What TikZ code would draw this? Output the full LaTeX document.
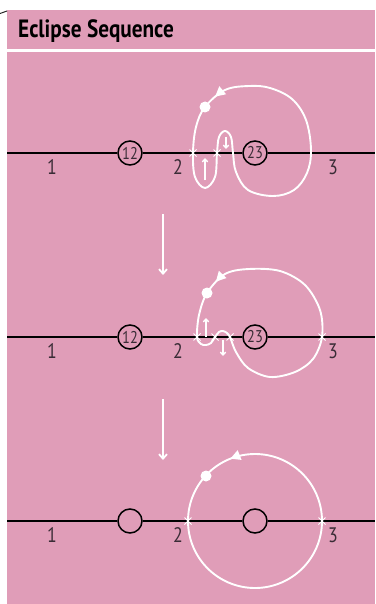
\documentclass[tikz,border=0pt]{standalone}
\usepackage{fontspec}
\setmainfont{PT Sans}[FakeStretch=0.85]
\usetikzlibrary{positioning,arrows.meta,shapes.misc,decorations.markings}
\definecolor{rosebg}{RGB}{224,157,184}
\definecolor{inkgray}{RGB}{58,44,54}

\begin{document}
\begin{tikzpicture}[
    x=1pt, y=-1pt,
    axis/.style={line width=1.8pt,black},
    hole/.style={circle,draw=black,line width=1.5pt,fill=rosebg,minimum size=24pt,inner sep=0pt,text=inkgray,font=\fontsize{17}{17}\selectfont},
    num/.style={text=inkgray,font=\fontsize{21}{21}\selectfont,inner sep=0pt},
    orbit/.style={white,line width=1.9pt},
    spot/.style={circle,fill=white,minimum size=11pt,inner sep=0pt},
    xmark/.style={cross out,draw=white,line width=1pt,minimum size=6pt,inner sep=0pt},
    flow/.style={white,line width=1.8pt,-{Straight Barb[length=4.5pt,width=8pt]}},
    nudge/.style={white,line width=1.3pt,-{Straight Barb[length=3pt,width=5.5pt]}},
    headmark/.style={postaction={decorate},decoration={markings,mark=at position #1 with {\arrow{Triangle[length=10pt,width=10pt]}}}}
]
\useasboundingbox (0,0) rectangle (375,604);

% background
\fill[rosebg] (7,10) rectangle (375,49);
\fill[rosebg] (7,52) rectangle (375,604);
\draw[black!85,line width=1pt] (0,13.5) -- (7,11);
\node[anchor=base west,inner sep=0pt,font=\fontsize{25}{25}\selectfont\bfseries] (title) at (18,38) {Eclipse Sequence};

% panel 1
\coordinate (L1) at (7,153);
\coordinate (R1) at (375,153);
\node[hole] (p12a) at (130,153) {12};
\node[hole] (p23a) at (255,153) {23};
\draw[axis] (L1) -- (p12a) -- (p23a) -- (R1);
\node[num] (n1a) at (52,167) {1};
\node[num] (n2a) at (178,167) {2};
\node[num] (n3a) at (333,167) {3};
\draw[orbit,headmark=12pt] plot[smooth cycle,tension=0.6] coordinates {
    (249,86) (225,90) (205,107) (196,127) (193,153) (195,177) (205,188)
    (215,177) (217,153) (219,137) (225,131) (231,137) (233,153)
    (236,172) (248,190) (273,196) (294,190) (307,173) (311,150)
    (306,120) (292,99) (270,88)};
\node[spot] (d1) at (205,107) {};
\node[xmark] (x1a) at (193,153) {};
\node[xmark] (x1b) at (217,153) {};
\draw[nudge] (205,180) -- (205,158);
\draw[nudge] (226,137) -- (226,149);

% arrow 1
\coordinate (a1s) at (163,214);
\coordinate (a1e) at (163,275);
\draw[flow] (a1s) -- (a1e);

% panel 2
\coordinate (L2) at (7,337);
\coordinate (R2) at (375,337);
\node[hole] (p12b) at (130,337) {12};
\node[hole] (p23b) at (255,337) {23};
\draw[axis] (L2) -- (p12b) -- (p23b) -- (R2);
\node[num] (n1b) at (52,351) {1};
\node[num] (n2b) at (178,351) {2};
\node[num] (n3b) at (333,351) {3};
\draw[orbit,headmark=12pt] plot[smooth cycle,tension=0.55] coordinates {
    (249,269) (225,274) (207,293) (199,315) (197,337) (201,344) (206,345)
    (211,343) (215,337) (219,332) (223,331) (227,333) (230,337)
    (236,352) (248,368) (270,377) (295,372) (313,359) (322,337)
    (320,310) (305,285) (280,271)};
\node[spot] (d2) at (207,293) {};
\node[xmark] (x2a) at (197,337) {};
\node[xmark] (x2b) at (215,337) {};
\node[xmark] (x2c) at (230,337) {};
\node[xmark] (x2d) at (322,337) {};
\draw[nudge] (206,337) -- (206,318);
\draw[nudge] (223,340) -- (223,356);

% arrow 2
\coordinate (a2s) at (163,399);
\coordinate (a2e) at (163,460);
\draw[flow] (a2s) -- (a2e);

% panel 3
\coordinate (L3) at (7,521);
\coordinate (R3) at (375,521);
\node[hole] (p12c) at (130,521) {};
\node[hole] (p23c) at (255,521) {};
\draw[axis] (L3) -- (p12c) -- (p23c) -- (R3);
\node[num] (n1c) at (52,535) {1};
\node[num] (n2c) at (178,535) {2};
\node[num] (n3c) at (333,535) {3};
\draw[orbit,headmark=0.31] (322,521) arc[start angle=0,end angle=-360,radius=67];
\node[spot] (d3) at (206,476) {};
\node[xmark] (x3a) at (188,521) {};
\node[xmark] (x3b) at (322,521) {};

\end{tikzpicture}
\end{document}
